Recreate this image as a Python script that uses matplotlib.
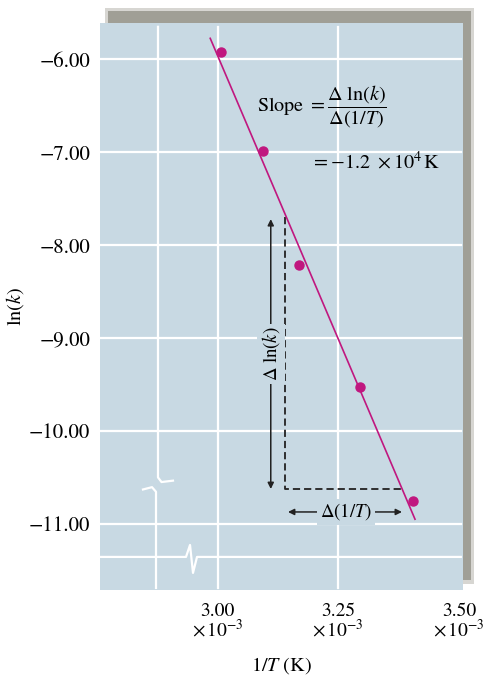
# Arrhenius plot: ln(k) vs 1/T with slope triangle

import matplotlib.pyplot as plt
from matplotlib.patches import Rectangle

plt.rcParams['font.family'] = ['STIXGeneral', 'DejaVu Serif']
plt.rcParams['mathtext.fontset'] = 'stix'

# data (1/T in units of 1e-3 K^-1)
inv_T = [3.007, 3.093, 3.169, 3.294, 3.404]
ln_k = [-5.92, -6.99, -8.21, -9.53, -10.75]

# drawn best-fit line end points
fit_x = [2.9845, 3.409]
fit_y = [-5.774, -10.95]

x_ticks = [3.00, 3.25, 3.50]
x_tick_labels = ['3.00\n$\\times\\,10^{-3}$', '3.25\n$\\times\\,10^{-3}$', '3.50\n$\\times\\,10^{-3}$']
y_ticks = [-6, -7, -8, -9, -10, -11]
y_tick_labels = ['\u22126.00', '\u22127.00', '\u22128.00', '\u22129.00', '\u221210.00', '\u221211.00']

panel = '#c8d9e3'
magenta = '#c0177f'

fig = plt.figure(figsize=(4.85, 6.76), dpi=100)

# drop shadow behind the panel (soft edge from two layers)
fig.patches.append(Rectangle((105/485, 92/676), 369/485, 576/676, transform=fig.transFigure,
                             facecolor='#b0afa7', alpha=0.5, edgecolor='none', zorder=0))
fig.patches.append(Rectangle((108/485, 96/676), 363/485, 569/676, transform=fig.transFigure,
                             facecolor='#a09f96', edgecolor='none', zorder=0))

ax = fig.add_axes([100/485, 86/676, 363/485, 567/676])
ax.set_facecolor(panel)
ax.set_zorder(1)
for s in ax.spines.values():
    s.set_visible(False)

ax.set_xlim(2.756, 3.5085)
ax.set_ylim(-11.712, -5.609)

# grid
for yt in y_ticks:
    ax.plot([2.756, 3.504], [yt, yt], color='white', lw=1.6, zorder=1)
for xt in x_ticks[:2]:
    ax.plot([xt, xt], [-11.69, -5.65], color='white', lw=1.6, zorder=1)

# axis break marks
ax.plot([2.8762, 2.8762, 2.8835, 2.9073], [-5.65, -10.50, -10.55, -10.535], color='white', lw=1.6, zorder=1)
ax.plot([2.8451, 2.8638, 2.8721, 2.8721], [-10.63, -10.605, -10.655, -11.69], color='white', lw=1.6, zorder=1)
ax.plot([2.756, 2.9343, 2.9426, 2.9488, 2.9571, 3.504],
        [-11.356, -11.356, -11.227, -11.528, -11.356, -11.356], color='white', lw=1.6, zorder=1)

# fit line and points
ax.plot(fit_x, fit_y, color=magenta, lw=1.2, zorder=3)
ax.plot(inv_T, ln_k, 'o', color=magenta, ms=6.5, zorder=4)

# slope triangle
ax.plot([3.1395, 3.1395, 3.382], [-7.70, -10.625, -10.625], color='#222222', lw=1.3,
        linestyle=(0, (4, 2.2)), zorder=2)
ax.annotate('', xy=(3.110, -7.72), xytext=(3.110, -10.625),
            arrowprops=dict(arrowstyle='<|-|>', color='#222222', lw=1.1, mutation_scale=9,
                            shrinkA=0, shrinkB=0), zorder=2)
ax.text(3.110, -9.17, '$\\Delta\\ \\ln(k)$', rotation=90, ha='center', va='center', fontsize=13.5,
        bbox=dict(facecolor=panel, edgecolor='none', pad=2), zorder=3)
ax.annotate('', xy=(3.1457, -10.872), xytext=(3.382, -10.872),
            arrowprops=dict(arrowstyle='<|-|>', color='#222222', lw=1.1, mutation_scale=9,
                            shrinkA=0, shrinkB=0), zorder=2)
ax.text(3.266, -10.872, '$\\Delta(1/T)$', ha='center', va='center', fontsize=13.5,
        bbox=dict(facecolor=panel, edgecolor='none', pad=2), zorder=3)

# slope text
ax.text(3.0815, -6.513, 'Slope $= \\dfrac{\\Delta\\ \\ln(k)}{\\Delta(1/T)}$', ha='left', va='center',
        fontsize=14.5, zorder=5)
ax.text(3.1925, -7.106, '$= {-1.2}\\ \\times 10^{4}\\,$K', ha='left', va='center', fontsize=14.5, zorder=5)

# ticks
ax.set_xticks(x_ticks)
ax.set_xticklabels(x_tick_labels, fontsize=14, linespacing=0.95)
ax.set_yticks(y_ticks)
ax.set_yticklabels(y_tick_labels, fontsize=15)
ax.tick_params(length=0)
ax.tick_params(axis='y', pad=7)
ax.tick_params(axis='x', pad=9)

ax.set_xlabel('1/$T$ (K)', fontsize=14.5, labelpad=10.5)
ax.set_ylabel('ln($k$)', fontsize=14.5, labelpad=2)

plt.savefig('out.png', dpi=100)
